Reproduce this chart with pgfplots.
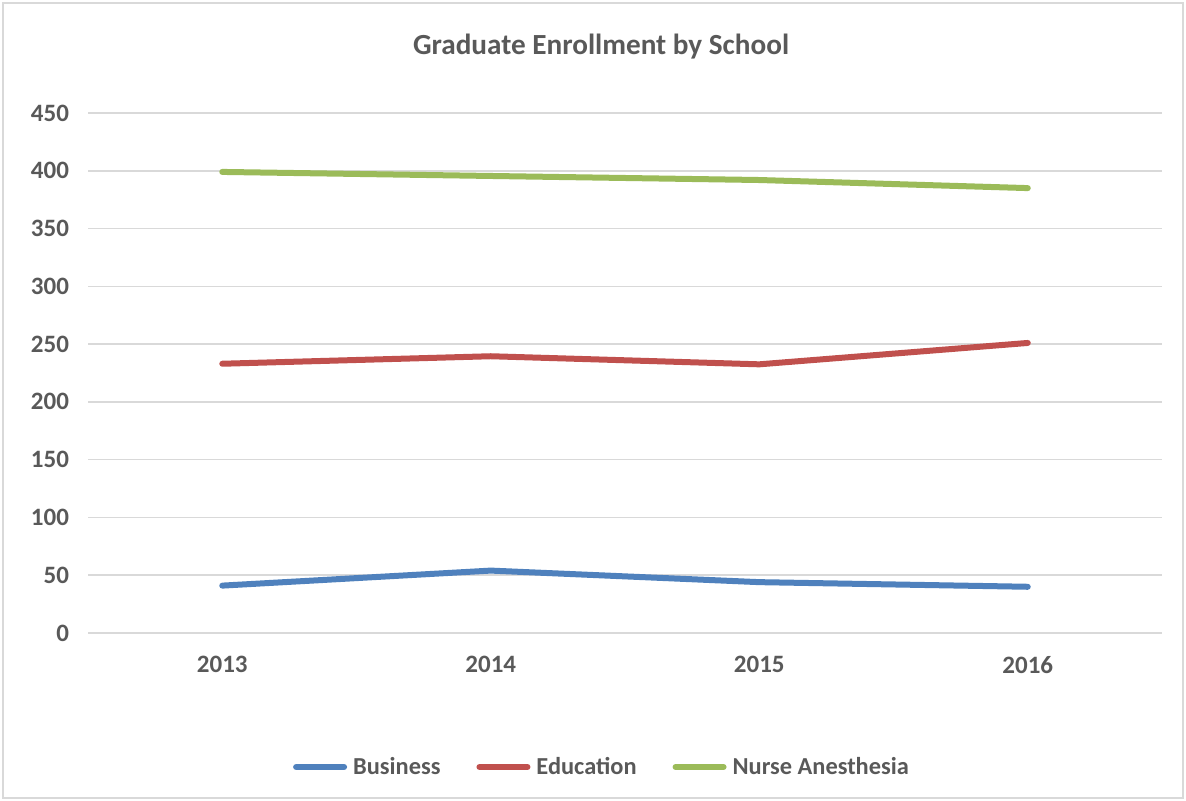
\documentclass[border=0pt]{standalone}
\usepackage{pgfplots}
\pgfplotsset{compat=1.18}
\usepackage{fontspec}
\setmainfont{Carlito}
\definecolor{txt}{HTML}{595959}
\definecolor{grd}{HTML}{D9D9D9}
\definecolor{cbus}{HTML}{4F81BD}
\definecolor{cedu}{HTML}{C0504D}
\definecolor{cnur}{HTML}{9BBB59}

\begin{document}
\begin{tikzpicture}
  % 1 px of the reference = 0.5pt
  \path[use as bounding box] (0,0) rectangle (593pt,400.5pt);
  \draw[grd, line width=0.75pt] (1.5pt,1.5pt) rectangle (591.5pt,399pt);
  \begin{axis}[
    at={(44pt,84pt)}, anchor=south west,
    scale only axis,
    width=537pt, height=260pt,
    xmin=2012.5, xmax=2016.5,
    ymin=0, ymax=450,
    xtick={2013,2014,2015,2016},
    ytick={0,50,...,450},
    xticklabel style={/pgf/number format/1000 sep={}},
    /pgf/number format/assume math mode=true,
    ymajorgrids,
    grid style={grd, line width=0.75pt},
    major tick length=0pt,
    axis line style={draw=none},
    axis x line*=bottom,
    axis y line*=left,
    ticklabel style={font=\fontsize{12.5}{14}\selectfont\bfseries, text=txt},
    yticklabel style={xshift=-6pt},
    xticklabel style={yshift=-8pt},
    title={Graduate Enrollment by School},
    title style={at={(axis description cs:0.4777,1.1039)}, anchor=center,
      font=\fontsize{14.6}{17}\selectfont\bfseries, text=txt},
    legend columns=3,
    legend style={at={(axis description cs:0.4795,-0.2577)}, anchor=center,
      draw=none, fill=none, font=\fontsize{12.2}{14}\selectfont\bfseries,
      text=txt, column sep=16pt, inner xsep=0pt,
      /tikz/every odd column/.style={column sep=1pt}},
    legend image code/.code={
      \draw[#1, line width=3pt, line cap=round] (0pt,0pt) -- (24pt,0pt);},
    every axis plot/.append style={line width=3pt, line cap=round, line join=round, mark=none},
  ]
  \addplot[cbus] coordinates {(2013,41) (2014,54) (2015,44) (2016,40)};
  \addlegendentry{Business}
  \addplot[cedu] coordinates {(2013,233) (2014,239.5) (2015,232.5) (2016,251)};
  \addlegendentry{Education}
  \addplot[cnur] coordinates {(2013,399) (2014,395.5) (2015,392) (2016,385)};
  \addlegendentry{Nurse Anesthesia}
  \draw[grd, line width=0.75pt] (axis cs:2012.5,0) -- (axis cs:2016.5,0);
  \end{axis}
\end{tikzpicture}
\end{document}
